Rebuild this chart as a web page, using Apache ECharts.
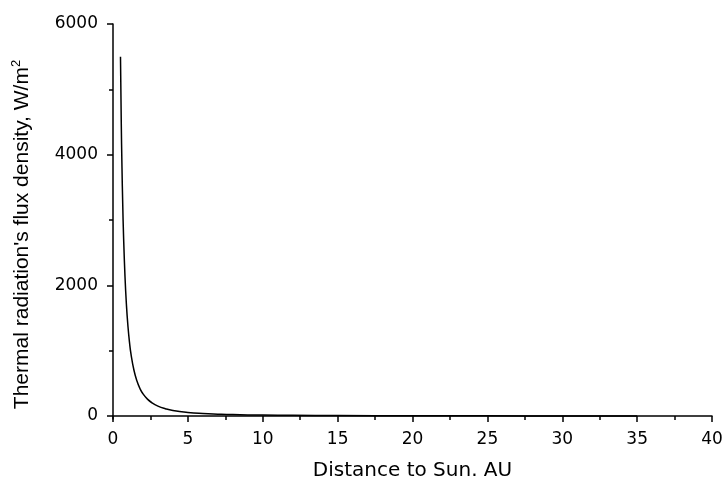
<!DOCTYPE html>
<html><head><meta charset="utf-8">
<script src="https://cdn.jsdelivr.net/npm/echarts@6/dist/echarts.min.js"></script>
<style>html,body{margin:0;padding:0;background:#fff}#c{width:723px;height:482px}</style>
</head><body><div id="c"></div>
<script>
const xTitle = "Distance to Sun. AU";
const yTitle = "Thermal radiation's flux density, W/m";
const xValues = [0.5, 0.55, 0.6, 0.65, 0.7, 0.8, 0.9, 1.0, 1.1, 1.2, 1.4, 1.6, 1.8, 2.0, 2.3, 2.6, 3.0, 3.5, 4.0, 5.0, 6.0, 7.0, 8.0, 10, 12, 15, 20, 25, 30, 35];
const yValues = [5500, 4520, 3800, 3240, 2790, 2140, 1690, 1370, 1130, 950, 700, 535, 420, 340, 258, 202, 152, 112, 85, 55, 38, 28, 21, 14, 9.5, 6, 3.4, 2.2, 1.5, 1.1];
const yMajor = [0, 2000, 4000, 6000];
const yMinor = [1000, 3000, 5000];

const font = '"DejaVu Sans", sans-serif';
const yFont = '"Liberation Sans", Arial, sans-serif';
const chart = echarts.init(document.getElementById('c'));
chart.setOption({
  animation: false,
  backgroundColor: '#fff',
  grid: {left: 113, right: 11, top: 24, bottom: 63, containLabel: false, outerBoundsMode: 'none'},
  xAxis: {
    type: 'value', min: 0, max: 40, interval: 5,
    name: xTitle, nameLocation: 'middle', nameGap: 42,
    nameTextStyle: {fontFamily: font, fontSize: 20, color: '#000'},
    axisLine: {show: true, lineStyle: {color: '#000', width: 1.5}},
    axisTick: {show: true, inside: false, length: 6, lineStyle: {color: '#000', width: 1.5}},
    minorTick: {show: true, splitNumber: 2, length: 4, lineStyle: {color: '#000', width: 1.5}},
    axisLabel: {fontFamily: font, fontSize: 17, color: '#000', margin: 12},
    splitLine: {show: false}
  },
  yAxis: [{
    type: 'value', min: -46, max: 6000,
    name: yTitle + '{sup|2}', nameLocation: 'middle', nameGap: 79, nameRotate: 90,
    nameTextStyle: {fontFamily: yFont, fontSize: 21, color: '#000', padding: [0, 26, 0, 0],
      rich: {sup: {fontFamily: yFont, fontSize: 13, color: '#000', verticalAlign: 'bottom', padding: [0, 0, 11, 0]}}},
    axisLine: {show: true, onZero: false, lineStyle: {color: '#000', width: 1.5}},
    axisTick: {show: true, inside: false, length: 6, customValues: yMajor, lineStyle: {color: '#000', width: 1.5}},
    axisLabel: {fontFamily: font, fontSize: 17, color: '#000', margin: 15, customValues: yMajor,
      formatter: v => String(v)},
    splitLine: {show: false}
  }, {
    type: 'value', min: -46, max: 6000, position: 'left',
    axisLine: {show: false},
    axisTick: {show: true, inside: false, length: 4, customValues: yMinor, lineStyle: {color: '#000', width: 1.5}},
    axisLabel: {show: false, customValues: yMinor},
    splitLine: {show: false}
  }],
  series: [{
    type: 'line', yAxisIndex: 0, showSymbol: false, smooth: true,
    lineStyle: {color: '#000', width: 1.5},
    data: xValues.map((x, i) => [x, yValues[i]])
  }]
});
</script></body></html>
